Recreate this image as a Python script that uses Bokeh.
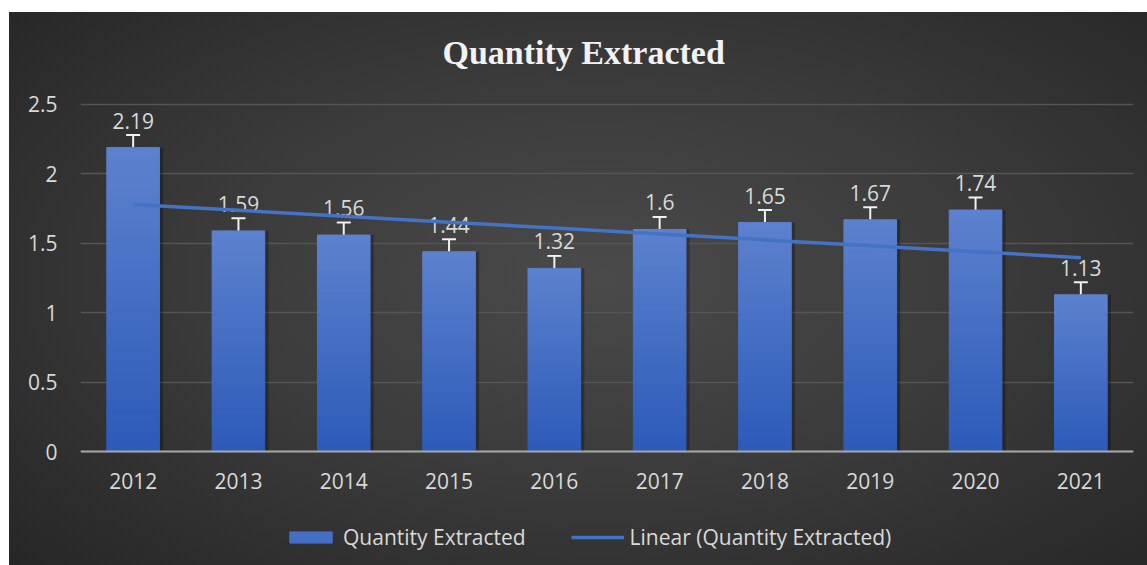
import numpy as np
from bokeh.plotting import figure
from bokeh.models import (ColumnDataSource, Whisker, TeeHead, Legend, LegendItem,
                          FactorRange, Range1d, FixedTicker)
from bokeh.core.properties import value
from bokeh.transform import dodge
from bokeh.embed import file_html
from bokeh.resources import INLINE

# ---- data ----
years = ["2012", "2013", "2014", "2015", "2016", "2017", "2018", "2019", "2020", "2021"]
quantity = [2.19, 1.59, 1.56, 1.44, 1.32, 1.6, 1.65, 1.67, 1.74, 1.13]
error = [0.09, 0.09, 0.09, 0.09, 0.09, 0.09, 0.09, 0.09, 0.09, 0.09]
value_labels = ["2.19", "1.59", "1.56", "1.44", "1.32", "1.6", "1.65", "1.67", "1.74", "1.13"]
y_ticks = [0.0, 0.5, 1.0, 1.5, 2.0, 2.5]
y_tick_labels = ["0", "0.5", "1", "1.5", "2", "2.5"]
series_name = "Quantity Extracted"
trend_name = "Linear (Quantity Extracted)"

# ---- layout / styles ----
FONT = "Open Sans"
TXT = "#d9d9d9"
TOP_C = np.array([0x5c, 0x81, 0xce])
BOT_C = np.array([0x2d, 0x5b, 0xb9])
N = 30
W, H = 1138, 553
TITLE_STANDOFF = 38
FRAME_TOP = 38 + TITLE_STANDOFF          # title panel height (text + standoff)
Y_TOP_PX, Y_ZERO_PX = 91, 439   # canvas px of 2.5 and 0
PX_PER_UNIT = (Y_ZERO_PX - Y_TOP_PX) / 2.5
y_end = 2.5 + (Y_TOP_PX - FRAME_TOP) / PX_PER_UNIT
y_start = -(H - Y_ZERO_PX) / PX_PER_UNIT

p = figure(x_range=FactorRange(*years), y_range=Range1d(y_start, y_end),
           width=W, height=H, output_backend="svg", toolbar_location=None,
           title=series_name,
           min_border_left=71, min_border_right=14, min_border_top=0, min_border_bottom=0)
p.styles = {"background": "radial-gradient(ellipse 75% 80% at 52% 48%, #4a4a4a 0%, #3b3b3b 45%, #242424 100%)",
            "margin-top": "12px", "margin-left": "9px"}
p.border_fill_alpha = 0
p.background_fill_alpha = 0
p.outline_line_color = None

# title
p.title.text_font = "Liberation Serif"
p.title.text_font_style = "bold"
p.title.text_font_size = "34px"
p.title.text_color = "#f2f2f2"
p.title.align = "left"
p.title.offset = 362
p.title.standoff = TITLE_STANDOFF

src = ColumnDataSource(dict(x=years, q=quantity,
                            upper=[q + e for q, e in zip(quantity, error)],
                            lower=[q - e for q, e in zip(quantity, error)],
                            lab=value_labels))
# bar shadow
p.vbar(x=dodge("x", 0.035, range=p.x_range), top="q", width=0.5, source=src,
       fill_color="black", fill_alpha=0.28, line_color=None)

# gradient bars built from slices of each value
sx, sb, st, sc = [], [], [], []
for yr, q in zip(years, quantity):
    for i in range(N):
        f = i / (N - 1)
        c = BOT_C + (TOP_C - BOT_C) * f
        sx.append(yr)
        sb.append(q * i / N)
        st.append(q * (i + 1) / N)
        sc.append("#%02x%02x%02x" % tuple(int(round(v)) for v in c))
slices = ColumnDataSource(dict(x=sx, bottom=sb, top=st, color=sc))
bars = p.vbar(x="x", bottom="bottom", top="top", width=0.5, source=slices,
              fill_color="color", line_color="color", line_width=1)

# error bars
head = dict(size=14, line_color="#f2f2f2", line_width=2)
p.add_layout(Whisker(base="x", upper="upper", lower="lower", source=src, dimension="height",
                     line_color="#f2f2f2", line_width=2,
                     upper_head=TeeHead(**head), lower_head=TeeHead(**head)))

# data labels
p.text(x="x", y="q", text="lab", source=src, y_offset=-27, text_align="center",
       text_baseline="middle", text_font=value(FONT), text_font_size="21px", text_color=TXT)

# linear trend line
idx = np.arange(len(quantity))
coef = np.polyfit(idx, quantity, 1)
trend = np.polyval(coef, idx)
trend_r = p.line(x=years, y=trend, line_color="#4472c4", line_width=3.5)

# axes
p.yaxis.ticker = FixedTicker(ticks=y_ticks)
p.yaxis.major_label_overrides = dict(zip(y_ticks, y_tick_labels))
p.yaxis.axis_line_color = None
p.yaxis.major_tick_line_color = None
p.yaxis.minor_tick_line_color = None
p.yaxis.major_label_standoff = 17
p.xaxis.fixed_location = 0
p.xaxis.major_tick_line_color = None
p.xaxis.axis_line_color = "#a6a6a6"
p.xaxis.axis_line_width = 2
p.xaxis.major_label_standoff = 15
for ax in (p.xaxis, p.yaxis):
    ax.major_label_text_font = FONT
    ax.major_label_text_font_size = "21px"
    ax.major_label_text_color = TXT
p.xgrid.grid_line_color = None
p.ygrid.grid_line_color = "#555555"
p.ygrid.grid_line_width = 1.5

legend = Legend(items=[LegendItem(label=series_name, renderers=[bars], index=N // 2),
                       LegendItem(label=trend_name, renderers=[trend_r])],
                location=(204, 14), orientation="horizontal",
                background_fill_alpha=0, border_line_color=None,
                label_text_color=TXT, label_text_font=FONT, label_text_font_size="21px",
                glyph_width=53, glyph_height=14, label_standoff=6, spacing=45,
                padding=0, margin=0)
p.add_layout(legend)

open("out.html", "w").write(file_html(p, INLINE))
